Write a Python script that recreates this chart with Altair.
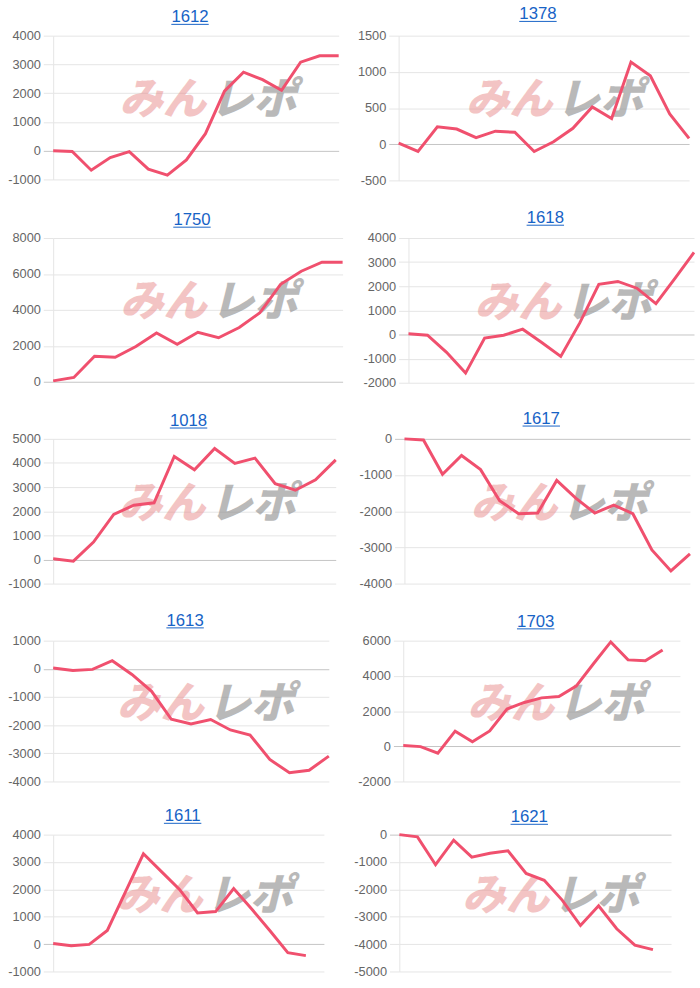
import altair as alt
import pandas as pd

# ---------------- data ----------------
TITLES = ["1612", "1378", "1750", "1618", "1018", "1617", "1613", "1703", "1611", "1621"]

V_1612 = [0, -30, -680, -240, -30, -640, -850, -320, 590, 2070, 2730, 2470, 2100, 3080, 3300, 3300]
V_1378 = [15, -100, 240, 210, 90, 180, 165, -100, 35, 220, 515, 355, 1135, 945, 420, 80]
V_1750 = [50, 240, 1420, 1360, 1960, 2710, 2090, 2750, 2450, 3020, 3840, 5420, 6150, 6650, 6650]
V_1618 = [30, -30, -740, -1600, -150, -30, 220, -330, -910, 480, 2080, 2200, 1920, 1280, 2330, 3400]
V_1018 = [30, -70, 720, 1870, 2250, 2350, 4270, 3720, 4600, 3980, 4200, 3140, 2870, 3300, 4130]
V_1617 = [0, -30, -980, -460, -850, -1710, -2070, -2050, -1150, -1640, -2050, -1830, -2070, -3070, -3650, -3180]
V_1613 = [30, -60, -20, 290, -200, -800, -1790, -1960, -1800, -2170, -2350, -3220, -3690, -3600, -3100]
V_1703 = [40, -20, -390, 860, 260, 870, 2120, 2490, 2750, 2830, 3420, 4690, 5930, 4910, 4860, 5470]
V_1611 = [20, -60, -10, 500, 1900, 3300, 2650, 2000, 1140, 1190, 2030, 1280, 500, -310, -420]
V_1621 = [0, -80, -1100, -200, -820, -680, -590, -1420, -1670, -2400, -3320, -2600, -3440, -4040, -4200]

SERIES = [V_1612, V_1378, V_1750, V_1618, V_1018, V_1617, V_1613, V_1703, V_1611, V_1621]

# number of category slots on each x axis (some trailing slots are empty)
SLOTS = [16, 16, 15, 16, 15, 16, 15, 17, 16, 16]

T_1612 = [-1000, 0, 1000, 2000, 3000, 4000]
T_1378 = [-500, 0, 500, 1000, 1500]
T_1750 = [0, 2000, 4000, 6000, 8000]
T_1618 = [-2000, -1000, 0, 1000, 2000, 3000, 4000]
T_1018 = [-1000, 0, 1000, 2000, 3000, 4000, 5000]
T_1617 = [-4000, -3000, -2000, -1000, 0]
T_1613 = [-4000, -3000, -2000, -1000, 0, 1000]
T_1703 = [-2000, 0, 2000, 4000, 6000]
T_1611 = [-1000, 0, 1000, 2000, 3000, 4000]
T_1621 = [-5000, -4000, -3000, -2000, -1000, 0]

TICKS = [T_1612, T_1378, T_1750, T_1618, T_1018, T_1617, T_1613, T_1703, T_1611, T_1621]

WATERMARK = ["みん", "レポ"]

# ---------------- style / layout ----------------
FONT = "Liberation Sans"
JFONT = "Noto Sans CJK JP"
LINE = "#f0506e"
BLUE = "#1763c6"
GRID = "#e5e5e5"
ZERO = "#c4c4c4"
LABEL = "#666666"

# (plot width, plot height, title baseline distance above plot)
LAYOUT = [
    (290, 146, 13.5), (295, 147, 16.5),
    (294, 146, 13), (290, 147, 15),
    (287, 147, 13), (290, 147, 15),
    (280, 143, 15), (281, 143, 14),
    (275, 139, 13.5), (276, 139, 12.5),
]
H_SPACING = [12.9, 13.9, 16.8, 22.6, 29.6]
V_SPACING = [22.5, 21, 22, 19]


def panel(k):
    w, h, tb = LAYOUT[k]
    vals = SERIES[k]
    ticks = TICKS[k]
    df = pd.DataFrame({"slot": list(range(len(vals))), "value": vals})
    gc = alt.condition("datum.value === 0", alt.value(ZERO), alt.value(GRID))

    line = alt.Chart(df).mark_line(color=LINE, strokeWidth=3).encode(
        x=alt.X("slot:Q",
                scale=alt.Scale(domain=[0, SLOTS[k] - 1], nice=False, zero=False),
                axis=None),
        y=alt.Y("value:Q",
                scale=alt.Scale(domain=[ticks[0], ticks[-1]], nice=False, zero=False),
                axis=alt.Axis(values=ticks, title=None,
                              labelExpr="'' + datum.value",
                              labelColor=LABEL, labelFont=FONT, labelFontSize=13,
                              labelPadding=3, tickSize=10,
                              tickColor=gc, gridColor=gc, domainColor=GRID,
                              labelOverlap=False, labelFlush=False)),
    )

    tdf = pd.DataFrame({"label": [TITLES[k]]})
    cx = w / 2 - 6
    head = alt.Chart(tdf).mark_text(
        font=FONT, fontSize=17, color=BLUE, align="center", baseline="alphabetic"
    ).encode(text="label:N", x=alt.value(cx), y=alt.value(-tb))
    under = alt.Chart(tdf).mark_rule(color=BLUE, strokeWidth=1).encode(
        x=alt.value(cx - 19), x2=alt.value(cx + 19), y=alt.value(-tb + 2))

    wx = w * 0.232
    wy = h * 0.455
    wm1 = alt.Chart(pd.DataFrame({"t": [WATERMARK[0]]})).mark_text(
        font=JFONT, fontSize=44, fontWeight=900, fontStyle="italic",
        color="#e88a8a", opacity=0.5, align="left", baseline="middle"
    ).encode(text="t:N", x=alt.value(wx), y=alt.value(wy))
    wm2 = alt.Chart(pd.DataFrame({"t": [WATERMARK[1]]})).mark_text(
        font=JFONT, fontSize=44, fontWeight=900, fontStyle="italic",
        color="#8c8c8c", opacity=0.6, align="left", baseline="middle"
    ).encode(text="t:N", x=alt.value(wx + 92), y=alt.value(wy))

    return alt.layer(wm1, wm2, line, head, under).properties(width=w, height=h)


rows = []
for r in range(5):
    rows.append(alt.hconcat(panel(2 * r), panel(2 * r + 1), spacing=H_SPACING[r]))


def stack(items, spacings):
    if len(items) == 1:
        return items[0]
    return alt.vconcat(items[0], stack(items[1:], spacings[1:]), spacing=spacings[0])


chart = stack(rows, V_SPACING).properties(
    padding={"left": 7, "top": -2.5, "right": 0, "bottom": 0},
    background="white",
).configure_view(stroke=None)

chart.save("out.html", embed_options={"renderer": "svg", "actions": False})
